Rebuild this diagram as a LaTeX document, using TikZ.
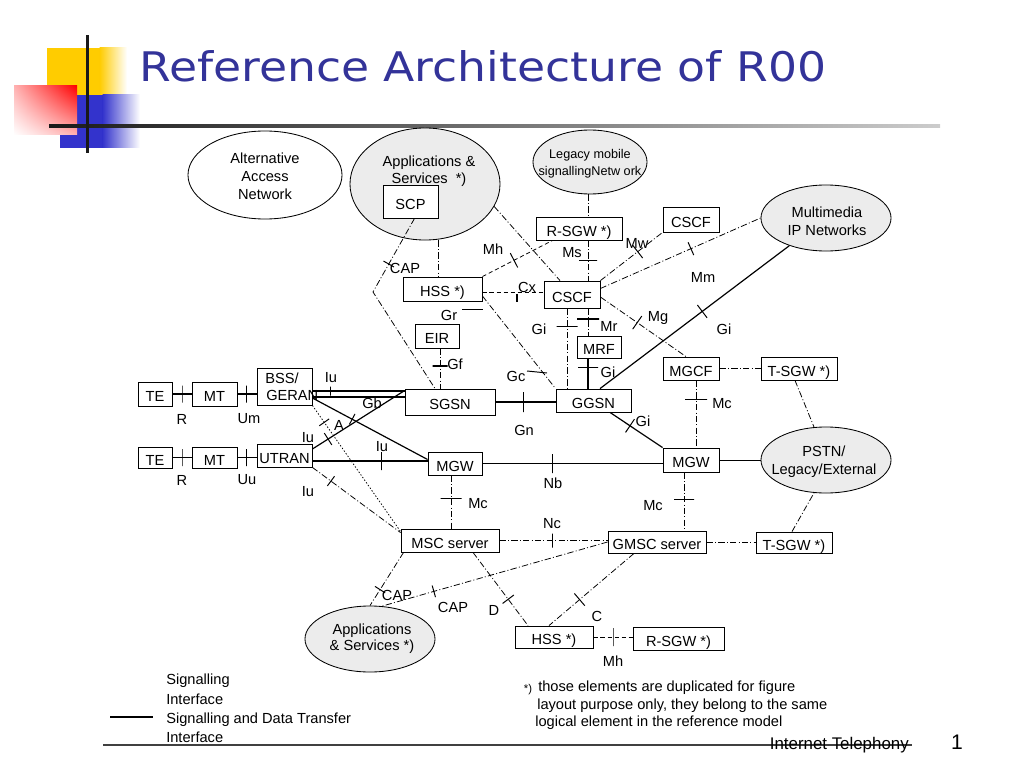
\documentclass[tikz,border=0pt]{standalone}
\usepackage{fontspec}
\usepackage{graphicx}
\usetikzlibrary{shapes.geometric,calc,shadings}
\newfontfamily\arial{Liberation Sans}
\newfontfamily\dejavu{DejaVu Sans}
\newcommand{\px}{*0.71132pt}
\newcommand{\dfont}{\arial\fontsize{10.4}{12.6}\selectfont}
\definecolor{titleblue}{RGB}{51,51,153}
\definecolor{decoyellow}{RGB}{255,204,0}
\definecolor{decoblue}{RGB}{51,51,204}
\definecolor{ellgray}{RGB}{236,236,236}
\tikzset{
 box/.style={draw, line width=0.6pt, fill=white, inner sep=0pt, text height=11pt, text depth=0pt},
 ell/.style={draw, ellipse, line width=0.6pt, inner sep=0pt},
 data/.style={line width=0.85pt},
 bigdata/.style={line width=1.4pt},
 sig/.style={line width=0.55pt, dash pattern=on 4.5pt off 1.6pt on 0.7pt off 1.6pt},
 sigd/.style={line width=0.55pt, dash pattern=on 3pt off 2pt},
 tk/.style={draw, solid, sloped, inner sep=0pt, minimum width=0pt, minimum height=#1\px, line width=0.7pt},
 tk/.default=16,
 lab/.style={inner sep=0pt},
}
\begin{document}
\begin{tikzpicture}[x=0.025cm, y=-0.025cm, font=\dfont]
\useasboundingbox (0,0) rectangle (1024,768);
% decoration
\fill[decoyellow] (47,48) rectangle (100,97);
\shade[left color=decoyellow, right color=white] (99.5,48) rectangle (127,97);
\fill[decoblue] (60,95) rectangle (103,148);
\shade[left color=decoblue, right color=white] (102.5,95) rectangle (140,148);
\shade[upper right=red, upper left=red!30, lower right=red!30, lower left=white] (14,86) rectangle (77,135);
\shade[left color=black!90, right color=black!20] (49,124.5) rectangle (940,127.5);
\fill[black!90] (85.5,35) rectangle (88.5,153);
\node[anchor=west, text=titleblue, font=\dejavu\fontsize{29}{34}\selectfont, inner sep=0pt] (title) at (139,66) {\scalebox{1.12}[1]{Reference Architecture of R00}};

% ellipses
\node[ell, minimum width=154\px, minimum height=88\px] (altnet) at (265,175) {};
\node[lab, align=center, font=\arial\fontsize{10.4}{12.8}\selectfont] (altnett) at (265,176) {Alternative\\ Access\\Network};
\node[ell, fill=ellgray, minimum width=150\px, minimum height=112\px] (apps1) at (425,184) {};
\node[lab, align=center, font=\arial\fontsize{10.4}{12.1}\selectfont] (apps1t) at (429,171.5) {Applications \&\\ Services\ \ *)};
\node[ell, fill=ellgray, minimum width=114\px, minimum height=64\px] (legacy) at (590,162) {};
\node[lab, align=center, font=\arial\fontsize{9}{12.1}\selectfont] (legacyt) at (590,164) {Legacy mobile\\signallingNetw ork};
\node[ell, fill=ellgray, minimum width=130\px, minimum height=66\px] (mmip) at (826,218) {};
\node[lab, align=center, font=\arial\fontsize{10.4}{12.6}\selectfont] (mmipt) at (827,221) {Multimedia\\IP Networks};
\node[ell, fill=ellgray, minimum width=130\px, minimum height=66\px] (pstn) at (826,460) {};
\node[lab, align=center, font=\arial\fontsize{10.4}{12.6}\selectfont] (pstnt) at (824,462) {PSTN/\\Legacy/External};
\node[ell, fill=ellgray, minimum width=130\px, minimum height=66\px] (apps2) at (370,639) {};
\node[lab, align=center, font=\arial\fontsize{10.4}{11.5}\selectfont] (apps2t) at (372,639) {Applications\\\& Services *)};

% boxes
\node[box, minimum width=55\px, minimum height=33\px] (scp) at (410.5,201.5) {SCP};
\node[box, minimum width=86\px, minimum height=23\px] (rsgw1) at (579,228.5) {R-SGW *)};
\node[box, minimum width=56\px, minimum height=25\px] (cscf2) at (691,219.5) {CSCF};
\node[box, minimum width=79\px, minimum height=24\px] (hss1) at (442.5,289) {HSS *)};
\node[box, minimum width=56\px, minimum height=27\px] (cscf1) at (572,294.5) {CSCF};
\node[box, minimum width=44\px, minimum height=24\px] (eir) at (437,336) {EIR};
\node[box, minimum width=44\px, minimum height=22\px] (mrf) at (599,347) {MRF};
\node[box, minimum width=90\px, minimum height=26\px] (sgsn) at (450,402) {SGSN};
\node[box, minimum width=75\px, minimum height=23\px] (ggsn) at (593.5,400.5) {GGSN};
\node[box, minimum width=56\px, minimum height=23\px] (mgcf) at (691,368.5) {MGCF};
\node[box, minimum width=76\px, minimum height=23\px] (tsgw1) at (799,368.5) {T-SGW *)};
\node[box, minimum width=34\px, minimum height=24\px] (te1) at (155,394) {TE};
\node[box, minimum width=45\px, minimum height=24\px] (mt1) at (214.5,394) {MT};
\node[box, minimum width=55\px, minimum height=37\px] (bss) at (284.5,386.5) {};
\node[lab, anchor=west] (bsst1) at (265,378) {BSS/};
\node[lab, anchor=west] (bsst2) at (266,395) {GERAN};
\node[box, minimum width=34\px, minimum height=21\px] (te2) at (155,457.5) {TE};
\node[box, minimum width=45\px, minimum height=21\px] (mt2) at (214.5,457.5) {MT};
\node[box, minimum width=55\px, minimum height=23\px] (utran) at (284.5,455.5) {UTRAN};
\node[box, minimum width=54\px, minimum height=23\px] (mgw1) at (455,463.5) {MGW};
\node[box, minimum width=56\px, minimum height=24\px] (mgw2) at (691,460) {MGW};
\node[box, minimum width=98\px, minimum height=23\px] (msc) at (450,540.5) {MSC server};
\node[box, minimum width=98\px, minimum height=22\px] (gmsc) at (657,542) {GMSC server};
\node[box, minimum width=76\px, minimum height=21\px] (tsgw2) at (794,542.5) {T-SGW *)};
\node[box, minimum width=78\px, minimum height=22\px] (hss2) at (554,637) {HSS *)};
\node[box, minimum width=91\px, minimum height=23\px] (rsgw2) at (678.5,638.5) {R-SGW *)};

% signalling and data transfer connectors
\draw[data] (te1.east) -- node[tk=17]{} (mt1.west);
\draw[data] (mt1.east) -- node[tk=17,pos=.45]{} (mt1.east -| bss.west);
\draw[data] (te2.east) -- node[tk=17]{} (mt2.west);
\draw[data] (mt2.east) -- node[tk=17,pos=.45]{} (mt2.east -| utran.west);
\draw[data] ([yshift=-4.5\px]bss.east) coordinate (ba) -- node[tk=9,pos=.2]{} (ba -| sgsn.west);
\draw[data] ([yshift=-10.5\px]bss.east) coordinate (bb) -- (bb -| sgsn.west);
\draw[data] ([yshift=-11.5\px]bss.east) -- node[tk=12,pos=.345]{} ([yshift=4\px]mgw1.west);
\draw[data] ([yshift=6.5\px]utran.east) -- node[tk=14,pos=.17]{} ([yshift=-2\px]sgsn.north west);
\draw[data] ([yshift=-5.5\px]utran.east) coordinate (ua) -- node[tk=18,pos=.6]{} (ua -| mgw1.west);
\draw[bigdata] (sgsn.east) -- node[tk=20,pos=.46]{} (sgsn.east -| ggsn.west);
\draw[data] ([xshift=-11\px]mrf.south) coordinate (ma) -- node[tk=20,pos=.29]{} (ma |- ggsn.north);
\draw[data] ([xshift=6.5\px]ggsn.north) -- node[tk=16,pos=.54]{} (mmip);
\draw[data] ([xshift=16.5\px]ggsn.south) -- node[tk=16,pos=.38]{} (mgw2.north west);
\draw[bigdata] (mgw1.east) -- node[tk=19,pos=.39]{} (mgw1.east -| mgw2.west);
\draw[data, line width=0.7pt] (mgw2.east) -- (pstn.west);

% signalling connectors
\coordinate (capc) at (373,292);
\draw[sig] ([xshift=4\px]scp.south) -- node[tk=12,pos=.62]{} (capc) -- ([xshift=-15\px]sgsn.north);
\draw[sig] ([xshift=13\px]apps1.south) coordinate (aa) -- (aa |- hss1.north);
\draw[sigd] ([yshift=-3\px]hss1.east) coordinate (ha) -- (ha -| cscf1.west);
\draw[line width=1.6pt] (517,294) -- (517,302);
\draw[sigd] (hss1.north east) -- node[tk=16,pos=.45]{} ([xshift=17\px]rsgw1.south west);
\draw[sig] ([xshift=-2\px]legacy.south) coordinate (la) -- (la |- rsgw1.north);
\draw[sig] ([xshift=9\px]rsgw1.south) coordinate (ra) -- node[tk=18,pos=.49]{} (ra |- cscf1.north);
\draw[sig] ([xshift=16\px]cscf1.south) coordinate (ca) -- node[tk=22,pos=.39,line width=1.2pt]{} (ca |- mrf.north);
\draw[sig] ([xshift=-5\px]cscf1.south) coordinate (cb) -- node[tk=21,pos=.22]{} (cb |- ggsn.north);
\draw[sig] (apps1.-18) -- ([xshift=-12\px]cscf1.north);
\draw[sig] (cscf1.north east) -- node[tk=16,pos=.6]{} (cscf2.south west);
\draw[sig] ([yshift=6\px]cscf1.east) -- node[tk=14,pos=.565]{} (mmip.west);
\draw[sig] ([yshift=-2.5\px]cscf1.east) -- node[tk=16,pos=.43]{} ([xshift=-5\px]mgcf.north);
\draw[sig] ([yshift=-7\px]hss1.east) -- (ggsn.north west);
\draw[line width=0.7pt] (527,371) -- (547,373);
\draw[line width=0.7pt] (462,309) -- (483,309);
\draw[sig] ([xshift=3\px]eir.south) coordinate (ea) -- node[tk=15,pos=.44,line width=1.2pt]{} (ea |- sgsn.north);
\draw[sig] (mgcf.east) -- (tsgw1.west);
\draw[sig] ([xshift=-4\px]tsgw1.south) -- (pstn.110);
\draw[sig] ([xshift=5\px]mgcf.south) coordinate (mc1) -- node[tk=22,pos=.29]{} (mc1 |- mgw2.north);
\draw[sig] ([xshift=-4\px]mgw1.south) coordinate (mc2) -- node[tk=21,pos=.44]{} (mc2 |- msc.north);
\draw[sig] ([xshift=-7\px]mgw2.south) coordinate (mc3) -- node[tk=20,pos=.47]{} (mc3 |- gmsc.north);
\draw[sig] (msc.east) -- node[tk=14,pos=.49]{} (msc.east -| gmsc.west);
\draw[sig] (gmsc.east) -- (gmsc.east -| tsgw2.west);
\draw[sig] ([xshift=-2\px]tsgw2.north) -- (pstn.-110);
\draw[sig, dash pattern=on 1pt off 1.3pt] (bss.south east) -- node[tk=12,pos=.134]{} ([yshift=-3\px]msc.north west);
\draw[sig] (utran.south east) -- node[tk=12,pos=.21]{} ([yshift=-4\px]msc.north west);
\draw[sig] ([xshift=3\px]msc.south west) -- node[tk=12,pos=.7]{} (apps2.north);
\draw[sig] (gmsc.west) -- node[tk=12,pos=.77]{} (apps2.70);
\draw[sig] ([xshift=23\px]msc.south) -- node[tk=14,pos=.64]{} ([xshift=-26\px]hss2.north);
\draw[sig] ([xshift=-23\px]gmsc.south) -- node[tk=16,pos=.64]{} ([xshift=-5\px]hss2.north);
\draw[sigd] (hss2.east) -- node[tk=18]{} (hss2.east -| rsgw2.west);

% interface labels
\node[lab] (l1) at (182,419) {R};
\node[lab] (l2) at (249,419) {Um};
\node[lab] (l3) at (182,480) {R};
\node[lab] (l4) at (247,480) {Uu};
\node[lab] (l5) at (331,378) {Iu};
\node[lab] (l6) at (372,403) {Gb};
\node[lab] (l7) at (339,425) {A};
\node[lab] (l8) at (308,438) {Iu};
\node[lab] (l9) at (382,447) {Iu};
\node[lab] (l10) at (308,492) {Iu};
\node[lab] (l11) at (405,268) {CAP};
\node[lab] (l12) at (493,249) {Mh};
\node[lab] (l13) at (572,253) {Ms};
\node[lab] (l14) at (637,243) {Mw};
\node[lab] (l15) at (703,277) {Mm};
\node[lab] (l16) at (527,287) {Cx};
\node[lab] (l17) at (449,315) {Gr};
\node[lab] (l18) at (539,329) {Gi};
\node[lab] (l19) at (609,326) {Mr};
\node[lab] (l20) at (658,318) {Mg};
\node[lab] (l21) at (724,329) {Gi};
\node[lab] (l22) at (455,364) {Gf};
\node[lab] (l23) at (516,376) {Gc};
\node[lab] (l24) at (608,372) {Gi};
\node[lab] (l25) at (524,430) {Gn};
\node[lab] (l26) at (643,421) {Gi};
\node[lab] (l27) at (722,404) {Mc};
\node[lab] (l28) at (553,483) {Nb};
\node[lab] (l29) at (478,504) {Mc};
\node[lab] (l30) at (653,506) {Mc};
\node[lab] (l31) at (552,524) {Nc};
\node[lab] (l32) at (397,595) {CAP};
\node[lab] (l33) at (453,607) {CAP};
\node[lab] (l34) at (494,610) {D};
\node[lab] (l35) at (597,616) {C};
\node[lab] (l36) at (613,661) {Mh};

% legend and footnote
\node[lab, anchor=west] (lg1) at (166,681) {Signalling};
\node[lab, anchor=west] (lg2) at (166,699) {Interface};
\draw[line width=1.4pt] (110,717) -- (153,717);
\node[lab, anchor=west] (lg3) at (166,720) {Signalling and Data Transfer};
\node[lab, anchor=west] (lg4) at (166,737) {Interface};
\node[lab, font=\arial\fontsize{8}{9}\selectfont] (fn0) at (528,690) {*)};
\node[lab, anchor=west] (fn1) at (538,688) {those elements are duplicated for figure};
\node[lab, anchor=west] (fn2) at (537,706) {layout purpose only, they belong to the same};
\node[lab, anchor=west] (fn3) at (535,723) {logical element in the reference model};

% footer
\draw[black!75, line width=0.8pt] (103,745) -- (912,745);
\node[lab, anchor=east, font=\arial\fontsize{12}{14}\selectfont] (foot) at (909,745) {Internet Telephony};
\node[lab, font=\arial\fontsize{15}{17}\selectfont] (page) at (957,742) {1};
\end{tikzpicture}
\end{document}
